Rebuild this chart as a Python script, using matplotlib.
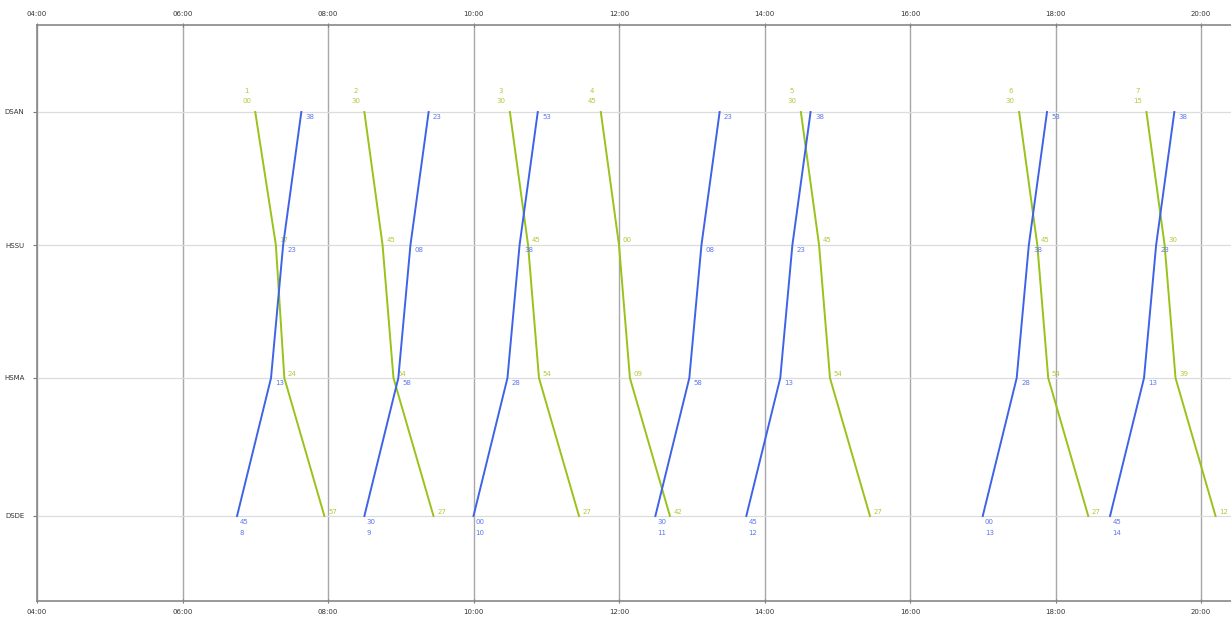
import matplotlib
matplotlib.use("Agg")
import matplotlib.pyplot as plt

# Stations (top to bottom) and their positions along the line
stations = ["DSAN", "HSSU", "HSMA", "DSDE"]
station_pos = [0.0, 13.3, 26.6, 40.4]

# Down trains (green): DSAN -> HSSU -> HSMA -> DSDE, times "HH:MM"
down_numbers = ["1", "2", "3", "4", "5", "6", "7"]
down_times = [
    ["07:00", "07:17", "07:24", "07:57"],
    ["08:30", "08:45", "08:54", "09:27"],
    ["10:30", "10:45", "10:54", "11:27"],
    ["11:45", "12:00", "12:09", "12:42"],
    ["14:30", "14:45", "14:54", "15:27"],
    ["17:30", "17:45", "17:54", "18:27"],
    ["19:15", "19:30", "19:39", "20:12"],
]

# Up trains (blue): DSDE -> HSMA -> HSSU -> DSAN
up_numbers = ["8", "9", "10", "11", "12", "13", "14"]
up_times = [
    ["06:45", "07:13", "07:23", "07:38"],
    ["08:30", "08:58", "09:08", "09:23"],
    ["10:00", "10:28", "10:38", "10:53"],
    ["12:30", "12:58", "13:08", "13:23"],
    ["13:45", "14:13", "14:23", "14:38"],
    ["17:00", "17:28", "17:38", "17:53"],
    ["18:45", "19:13", "19:23", "19:38"],
]

tick_hours = [4, 6, 8, 10, 12, 14, 16, 18, 20]
tick_labels = ["04:00", "06:00", "08:00", "10:00", "12:00", "14:00", "16:00", "18:00", "20:00"]


def to_h(s):
    h, m = s.split(":")
    return int(h) + int(m) / 60.0


GREEN = "#99c21a"
GREEN_TXT = "#b3c83c"
BLUE = "#3f63e6"
BLUE_TXT = "#5b78f0"
FS = 5

fig = plt.figure(figsize=(12.31, 6.22), dpi=100)
ax = fig.add_axes([37 / 1231, 1 - 601 / 622, 1 - 37 / 1231, (601 - 25) / 622])

x_left = 4.0
x_right = 4.0 + (1231 - 37) / 72.75
ax.set_xlim(x_left, x_right)
y_top = -8.7
y_bot = 48.9
ax.set_ylim(y_bot, y_top)

# grid
for h in tick_hours:
    ax.axvline(h, color="#a8a8a8", lw=1.0, zorder=1)
for p in station_pos:
    ax.axhline(p, color="#dcdcdc", lw=0.9, zorder=1)

ax.set_yticks(station_pos)
ax.set_yticklabels(stations, fontsize=FS, color="#333333")
ax.set_xticks(tick_hours)
ax.set_xticklabels(tick_labels, fontsize=FS, color="#333333")
ax.tick_params(axis="x", top=True, labeltop=True, bottom=True, labelbottom=True,
               length=3, width=0.8, color="#777777", direction="inout", pad=4)
ax.tick_params(axis="y", length=3, width=0.8, color="#777777", pad=6)
for s in ["top", "bottom", "left"]:
    ax.spines[s].set_color("#888888")
    ax.spines[s].set_linewidth(1.2)
ax.spines["right"].set_visible(False)

# down trains
for num, times in zip(down_numbers, down_times):
    xs = [to_h(t) for t in times]
    ax.plot(xs, station_pos, color=GREEN, lw=1.4, zorder=3)
    # departure label above start
    ax.text(xs[0] - 0.12, station_pos[0] - 1.1, times[0][-2:], fontsize=FS,
            color=GREEN_TXT, ha="center", va="center")
    ax.text(xs[0] - 0.12, station_pos[0] - 2.1, num, fontsize=FS,
            color=GREEN_TXT, ha="center", va="center")
    for x, p, t in zip(xs[1:], station_pos[1:], times[1:]):
        ax.text(x + 0.05, p - 0.45, t[-2:], fontsize=FS, color=GREEN_TXT,
                ha="left", va="center")

# up trains
for num, times in zip(up_numbers, up_times):
    xs = [to_h(t) for t in times]
    ps = station_pos[::-1]
    ax.plot(xs, ps, color=BLUE, lw=1.4, zorder=3)
    ax.text(xs[0] + 0.03, ps[0] + 0.6, times[0][-2:], fontsize=FS,
            color=BLUE_TXT, ha="left", va="center")
    ax.text(xs[0] + 0.03, ps[0] + 1.7, num, fontsize=FS,
            color=BLUE_TXT, ha="left", va="center")
    for x, p, t in zip(xs[1:], ps[1:], times[1:]):
        ax.text(x + 0.06, p + 0.5, t[-2:], fontsize=FS, color=BLUE_TXT,
                ha="left", va="center")

fig.savefig("out.png", dpi=100)
